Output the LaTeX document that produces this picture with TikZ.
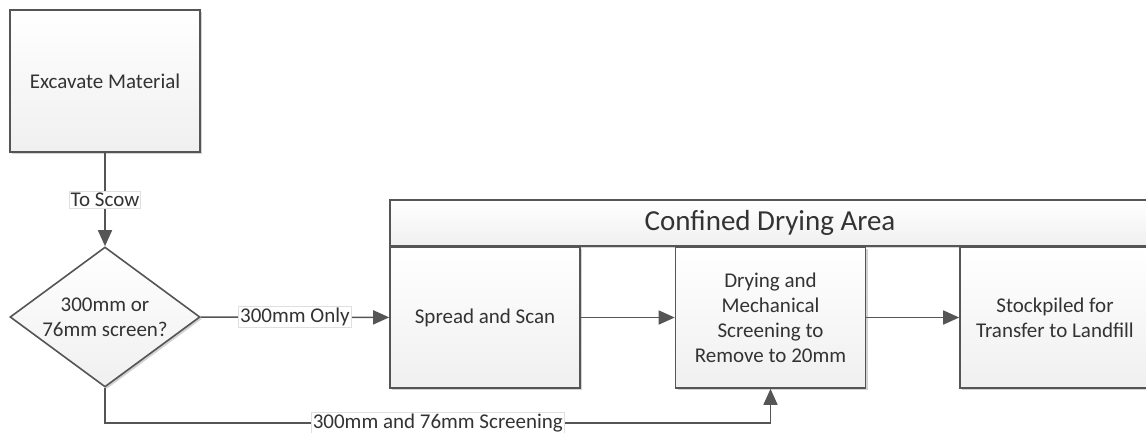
\documentclass[tikz,border=0pt]{standalone}
\usepackage{fontspec}
\setmainfont{Carlito}
\usetikzlibrary{shapes.geometric,arrows.meta,shadows}
\definecolor{edgegray}{HTML}{555555}
\definecolor{textgray}{HTML}{333333}

\begin{document}
\begin{tikzpicture}[x=1pt,y=-1pt,
    boxshade/.style={draw=edgegray, line width=1.6pt, top color=white, bottom color=gray!12,
      drop shadow={shadow xshift=2pt, shadow yshift=-2pt, opacity=0.35}},
    procbox/.style={boxshade, rectangle, minimum width=190pt, minimum height=141pt, inner sep=2pt,
      align=center, text=textgray, font=\fontsize{21}{25}\selectfont},
    decision/.style={boxshade, diamond, minimum width=190pt, minimum height=140pt, inner sep=0pt},
    decisiontext/.style={align=center, text=textgray, font=\fontsize{21}{25}\selectfont},
    areahead/.style={boxshade, rectangle, minimum width=760pt, minimum height=46pt, inner sep=0pt,
      text=textgray, font=\fontsize{29}{32}\selectfont},
    edgelabel/.style={fill=white, draw=gray!25, line width=0.6pt, inner sep=1.5pt,
      text=textgray, font=\fontsize{21}{24}\selectfont},
    flow/.style={draw=edgegray, line width=1.6pt, -{Triangle[length=16pt, width=14pt]}}]
  \useasboundingbox (0,0) rectangle (1146,432);
  \node[procbox, minimum height=142pt] (excavate) at (105,81) {Excavate Material};
  \node[decision, label={[decisiontext]center:300mm or\\76mm screen?}] (screen) at (105,317) {};
  \node[areahead] (area) at (770,223) {Confined Drying Area};
  \node[procbox] (spread) at (485,317.5) {Spread and Scan};
  \node[procbox] (drying) at (770.5,317.5) {Drying and\\Mechanical\\Screening to\\Remove to 20mm};
  \node[procbox] (stock) at (1055,317.5) {Stockpiled for\\Transfer to Landfill};
  \coordinate (bypass) at (105,423);
  \draw[flow] (excavate) -- node[edgelabel] {To Scow} (screen);
  \draw[flow] (screen) -- node[edgelabel] {300mm Only} (spread);
  \draw[flow] (spread) -- (drying);
  \draw[flow] (drying) -- (stock);
  \draw[flow] (screen.south) -- (bypass) -| node[edgelabel, pos=0.25] {300mm and 76mm Screening} (drying.south);
\end{tikzpicture}
\end{document}
